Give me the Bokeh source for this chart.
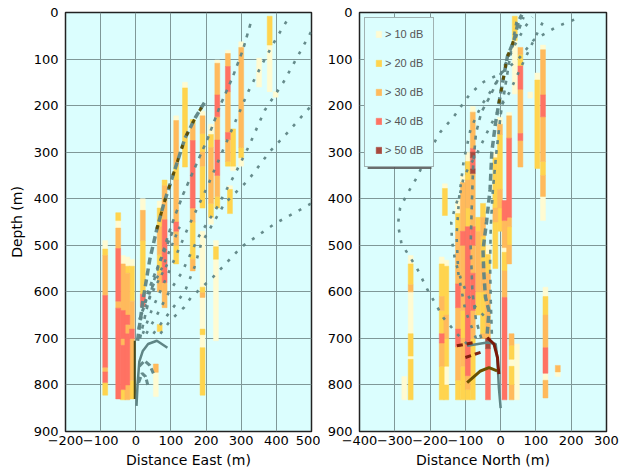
from bokeh.plotting import figure
from bokeh.layouts import row
from bokeh.models import Range1d, FixedTicker, Legend, LegendItem, ColumnDataSource, BoxAnnotation
from bokeh.embed import file_html
from bokeh.resources import INLINE

# ---------------- data ----------------
levels = [10, 20, 30, 40, 50]
level_labels = ["> 10 dB", "> 20 dB", "> 30 dB", "> 40 dB", "> 50 dB"]
level_colors = ["#FFFBD2", "#FFD44E", "#FFBA5C", "#FF7263", "#A8483D"]

depth_ticks = [0, 100, 200, 300, 400, 500, 600, 700, 800, 900]
east_ticks = [-200, -100, 0, 100, 200, 300, 400, 500]
north_ticks = [-400, -300, -200, -100, 0, 100, 200, 300]

# East panel: column centre (m), cell boundaries in depth (m), level of each cell (0 = empty)
east_col_x = [-87, -50, -37, -24, -11, 20, 57, 68, 82, 115, 140, 162, 190, 214, 228, 232,
              262, 268, 277, 300, 351, 381, 398]
east_col_edges = [
    [490, 508, 522, 608, 762, 772, 795, 822],
    [430, 447, 463, 507, 620, 635, 830],
    [522, 540, 640, 700, 715, 810, 832],
    [525, 545, 560, 650, 670, 690, 800, 832],
    [530, 545, 620, 680, 700, 790, 830],
    [400, 425, 490, 605, 632],
    [755, 773, 825],
    [405, 420, 460, 520, 560, 600, 670, 685],
    [360, 372, 445, 580, 634],
    [222, 232, 330, 360, 450, 470, 500, 540],
    [150, 162, 332],
    [230, 240, 275, 420, 450, 530, 555],
    [212, 222, 260, 300, 330, 420, 470, 590, 602, 612, 680, 692, 720, 822],
    [240, 262, 290, 410, 440, 455],
    [490, 503, 530, 705],
    [102, 109, 177, 224, 274, 350, 395, 420],
    [81, 88, 116, 170, 258, 273, 320, 330],
    [372, 380, 432],
    [250, 330, 340],
    [63, 75, 290, 312, 330],
    [98, 160],
    [8, 70, 170],
    [170, 182],
]
east_col_lvls = [
    [10, 20, 30, 40, 30, 40, 20],
    [20, 10, 30, 40, 30, 40],
    [10, 30, 40, 30, 40, 20],
    [10, 20, 30, 40, 30, 40, 30],
    [10, 20, 30, 40, 30, 20],
    [10, 30, 20, 40],
    [30, 10],
    [10, 20, 30, 20, 30, 0, 20],
    [20, 30, 40, 30],
    [10, 30, 20, 30, 40, 30, 20],
    [10, 20],
    [20, 30, 40, 30, 20, 30],
    [10, 30, 20, 30, 20, 0, 10, 20, 30, 10, 20, 10, 20],
    [10, 20, 30, 20, 10],
    [10, 20, 10],
    [10, 30, 40, 30, 40, 30, 20],
    [10, 30, 40, 30, 40, 30, 20],
    [10, 20],
    [20, 10],
    [10, 30, 20, 10],
    [10],
    [20, 10],
    [10],
]

# North panel
north_col_x = [-273, -255, -167, -158, -154, -121, -107, -93, -79, -64, -50, -36, -15, -2,
               11, 24, 31, 40, 46, 56, 84, 104, 120, 127, 162]
north_col_edges = [
    [782, 832],
    [522, 540, 585, 600, 690, 738, 745, 832],
    [525, 540, 610, 640, 690, 710, 760, 832],
    [368, 378, 436],
    [532, 545, 650, 700, 760, 800, 832],
    [404, 432, 470, 583, 634, 680, 718, 790, 832],
    [350, 365, 470, 500, 640, 700, 760, 832],
    [300, 320, 360, 420, 460, 780, 810, 832],
    [202, 214, 292, 300, 312, 336, 346, 460, 500, 560, 640, 700, 832],
    [440, 470, 600, 650],
    [410, 440, 480, 540, 600, 690, 700],
    [500, 520, 560, 700, 722, 832],
    [300, 312, 420, 450, 550],
    [225, 240, 262, 380, 420, 470],
    [404, 447, 505, 515, 555, 612, 832],
    [215, 222, 270, 440, 460, 500, 540],
    [690, 715, 745, 760, 800, 832],
    [8, 60, 175],
    [712, 832],
    [75, 90, 115, 165, 260, 275, 332],
    [171, 184],
    [130, 145, 335],
    [70, 80, 177, 224, 320, 350, 395, 447],
    [590, 610, 650, 720, 775, 790, 828],
    [758, 772, 782],
]
north_col_lvls = [
    [10],
    [10, 20, 30, 10, 20, 10, 20],
    [10, 20, 30, 20, 40, 30, 20],
    [10, 20],
    [10, 20, 30, 20, 10, 20],
    [10, 20, 30, 40, 30, 40, 30, 20],
    [10, 30, 40, 30, 20, 30, 20],
    [10, 20, 30, 20, 40, 30, 20],
    [10, 30, 40, 50, 40, 50, 30, 40, 30, 40, 30, 20],
    [20, 30, 20],
    [20, 30, 20, 30, 20, 30],
    [10, 20, 30, 50, 40],
    [10, 20, 30, 20],
    [10, 30, 20, 30, 20],
    [40, 30, 10, 20, 30, 40],
    [10, 30, 40, 30, 20, 30],
    [30, 20, 10, 20, 30],
    [20, 10],
    [10],
    [30, 20, 40, 30, 40, 30],
    [10],
    [10, 20],
    [10, 30, 40, 30, 20, 30, 10],
    [10, 20, 30, 40, 10, 30],
    [30, 10],
]

# Trajectories, East panel (distance east, depth)
east_well_x = [2, 5, 10, 20, 35, 60, 90]
east_well_y = [845, 800, 750, 727, 712, 705, 720]
east_core_x = [-3, -3]
east_core_y = [705, 830]
east_ray1_x = [5, 20, 40, 60, 80, 110, 140, 170, 200]
east_ray1_y = [705, 620, 530, 465, 410, 340, 270, 225, 188]
east_ray2_x = [12, 30, 50, 75, 100, 135, 170, 205, 240, 275, 305, 331]
east_ray2_y = [700, 640, 580, 520, 460, 390, 330, 270, 200, 140, 80, 12]
east_ray3_x = [20, 45, 75, 110, 150, 200, 240, 280, 320, 360, 400, 440]
east_ray3_y = [690, 640, 590, 530, 460, 380, 310, 240, 170, 110, 55, 5]
east_ray4_x = [30, 60, 95, 130, 180, 230, 280, 320, 367, 420, 460, 500]
east_ray4_y = [690, 650, 600, 560, 480, 420, 350, 290, 210, 150, 95, 40]
east_ray5_x = [50, 90, 120, 143, 167, 186, 252, 281, 319, 380, 433, 471, 500]
east_ray5_y = [690, 650, 620, 593, 547, 497, 411, 389, 361, 300, 257, 224, 200]
east_ray6_x = [70, 100, 138, 157, 219, 300, 395, 500]
east_ray6_y = [690, 660, 633, 612, 569, 504, 454, 410]
east_feather1_x = [8, 20, 35, 55, 80, 105]
east_feather1_y = [680, 640, 600, 560, 515, 470]
east_feather2_x = [10, 28, 50, 75, 100, 125]
east_feather2_y = [660, 622, 585, 548, 505, 460]
east_feather3_x = [15, 40, 65, 90]
east_feather3_y = [650, 612, 575, 540]
east_hook1_x = [10, 25, 40, 50]
east_hook1_y = [760, 748, 758, 775]
east_hook2_x = [8, 18, 28, 34]
east_hook2_y = [795, 775, 782, 800]
east_dark_x = [60, 80, 110, 140, 170, 200]
east_dark_y = [465, 410, 340, 270, 225, 188]

# Trajectories, North panel (distance north, depth)
north_well_x = [0, -5, -9, -14, -38, -95]
north_well_y = [850, 806, 748, 712, 709, 716]
north_red_x = [-38, -19, -9, -5]
north_red_y = [698, 712, 741, 777]
north_olive_x = [-95, -57, -33, -10]
north_olive_y = [795, 770, 763, 770]
north_red2_x = [-124, -76]
north_red2_y = [716, 709]
north_red3_x = [-100, -57]
north_red3_y = [741, 730]
north_ray1_x = [-95, -124, -163, -209, -238, -281, -291, -285, -265, -238, -200, -171, -133, -86,
                -48, 0, 48, 94, 160, 229]
north_ray1_y = [712, 690, 655, 593, 548, 497, 455, 420, 390, 355, 295, 257, 224, 174, 149, 131,
                102, 59, 30, 9]
north_ray2_x = [-48, -71, -95, -114, -129, -138, -140, -128, -114, -105, -90, -67, -40, -10, 24,
                50, 76, 100, 120]
north_ray2_y = [651, 633, 605, 569, 533, 490, 450, 415, 386, 354, 332, 303, 260, 215, 173, 130,
                88, 50, 20]
north_ray3_x = [-38, -33, -43, -48, -50, -40, -30, -25, -15, -5, 8, 19, 38, 50, 60]
north_ray3_y = [690, 641, 612, 555, 510, 450, 380, 300, 240, 195, 140, 95, 59, 20, 5]
north_ray4_x = [-55, -70, -80, -85, -82, -78, -70, -55, -30, -5, 20, 40, 55, 65]
north_ray4_y = [700, 660, 600, 500, 420, 330, 260, 215, 180, 140, 100, 60, 30, 10]
north_ray5_x = [-70, -100, -120, -125, -118, -105, -85, -55, -20, 10, 40, 70, 90]
north_ray5_y = [700, 640, 560, 480, 400, 320, 250, 200, 160, 120, 70, 30, 10]
north_ray6_x = [-25, -28, -30, -28, -22, -12, 0, 15, 30, 45]
north_ray6_y = [690, 620, 540, 460, 380, 300, 220, 150, 80, 20]
north_dark_x = [-5, 8, 19, 38]
north_dark_y = [195, 140, 95, 59]

# ---------------- styling ----------------
BG = "#DBFEFE"
GRID = "#7f9898"
RAY = "#5f8585"
FONT = "DejaVu Sans"
CELL_W = 14


def make_fig(width, xr, xticks, xlabel, ylabel, min_left, min_right):
    p = figure(width=width, height=472, x_range=Range1d(*xr), y_range=Range1d(900, 0),
               output_backend="svg", toolbar_location=None,
               min_border_left=min_left, min_border_right=min_right,
               min_border_top=12, min_border_bottom=41)
    p.background_fill_color = BG
    p.border_fill_color = "white"
    p.outline_line_color = "#222222"
    p.outline_line_width = 1.5
    p.xaxis.ticker = FixedTicker(ticks=xticks)
    p.yaxis.ticker = FixedTicker(ticks=depth_ticks)
    p.xaxis.major_label_overrides = {t: ("\u2212" + str(-t) if t < 0 else str(t)) for t in xticks}
    for ax in (p.xaxis[0], p.yaxis[0]):
        ax.axis_line_color = None
        ax.major_tick_line_color = None
        ax.minor_tick_line_color = None
        ax.major_tick_out = 0
        ax.major_tick_in = 0
        ax.major_label_text_font = FONT
        ax.major_label_text_font_size = "13px"
        ax.major_label_text_color = "black"
        ax.axis_label_text_font = FONT
        ax.axis_label_text_font_size = "14px"
        ax.axis_label_text_font_style = "normal"
        ax.axis_label_text_color = "black"
    p.xaxis.major_label_standoff = 4
    p.yaxis.major_label_standoff = 7
    p.xaxis.axis_label_standoff = 4
    p.yaxis.axis_label_standoff = 6
    p.xaxis.axis_label = xlabel
    if ylabel:
        p.yaxis.axis_label = ylabel
    p.xgrid.ticker = FixedTicker(ticks=xticks)
    p.ygrid.ticker = FixedTicker(ticks=depth_ticks)
    for g in (p.xgrid[0], p.ygrid[0]):
        g.grid_line_color = GRID
        g.grid_line_width = 1
        g.grid_line_alpha = 1
    return p


def add_cells(p, col_x, col_edges, col_lvls):
    data = {l: dict(left=[], right=[], top=[], bottom=[]) for l in levels}
    for x, edges, lv in zip(col_x, col_edges, col_lvls):
        for i, l in enumerate(lv):
            if l == 0:
                continue
            d = data[l]
            d["left"].append(x - CELL_W / 2)
            d["right"].append(x + CELL_W / 2)
            d["top"].append(edges[i])
            d["bottom"].append(edges[i + 1])
    rends = []
    for l, c in zip(levels, level_colors):
        r = p.quad(left="left", right="right", top="top", bottom="bottom",
                   source=ColumnDataSource(data[l]), fill_color=c, line_color=c, line_width=0.5)
        rends.append(r)
    return rends


def dotted(p, x, y):
    p.line(x, y, line_color=RAY, line_width=2.6, line_dash="3 8", line_alpha=0.95)


def dashed(p, x, y, w=3.0, dash="5 5", color=RAY):
    p.line(x, y, line_color=color, line_width=w, line_dash=dash, line_alpha=0.95)


# ---------------- East panel ----------------
p1 = make_fig(320, (-200, 500), east_ticks, "Distance East (m)", "Depth (m)", 65, 9)
add_cells(p1, east_col_x, east_col_edges, east_col_lvls)
dashed(p1, east_ray1_x, east_ray1_y, w=3.5, dash="7 4")
dashed(p1, east_ray2_x, east_ray2_y, w=2.6, dash="4 6")
dotted(p1, east_ray3_x, east_ray3_y)
dotted(p1, east_ray4_x, east_ray4_y)
dotted(p1, east_ray5_x, east_ray5_y)
dotted(p1, east_ray6_x, east_ray6_y)
dashed(p1, east_feather1_x, east_feather1_y, w=2.8, dash="4 5")
dashed(p1, east_feather2_x, east_feather2_y, w=2.5, dash="3 6")
dashed(p1, east_feather3_x, east_feather3_y, w=2.5, dash="3 6")
dashed(p1, east_dark_x, east_dark_y, w=3, dash="4 10", color="#5c4b00")
dashed(p1, east_hook1_x, east_hook1_y, w=3, dash="6 3")
dashed(p1, east_hook2_x, east_hook2_y, w=3, dash="6 3")
p1.line(east_core_x, east_core_y, line_color="#4a4a1a", line_width=2)
p1.line(east_well_x, east_well_y, line_color=RAY, line_width=2.5)

# ---------------- North panel ----------------
p2 = make_fig(304, (-400, 300), north_ticks, "Distance North (m)", None, 39, 18)
rends = add_cells(p2, north_col_x, north_col_edges, north_col_lvls)
dotted(p2, north_ray1_x, north_ray1_y)
dotted(p2, north_ray2_x, north_ray2_y)
dashed(p2, north_ray3_x, north_ray3_y, w=3.5, dash="7 4")
dashed(p2, north_ray4_x, north_ray4_y, w=2.6, dash="4 6")
dotted(p2, north_ray5_x, north_ray5_y)
dashed(p2, north_ray6_x, north_ray6_y, w=2.6, dash="4 6")
dashed(p2, north_dark_x, north_dark_y, w=3, dash="4 8", color="#5c4b00")
p2.line(north_well_x, north_well_y, line_color=RAY, line_width=2.5)
p2.line(north_red_x, north_red_y, line_color="#7a1a0a", line_width=3)
p2.line(north_olive_x, north_olive_y, line_color="#6b5200", line_width=3)
dashed(p2, north_red2_x, north_red2_y, w=3, dash="6 4", color="#7a1a0a")
dashed(p2, north_red3_x, north_red3_y, w=3, dash="6 4", color="#7a1a0a")

# drop shadow behind the legend box (a few pixels right and down)
shadow = BoxAnnotation(left=-377, right=-196, top=17, bottom=336,
                       fill_color="#555555", fill_alpha=0.85, line_color=None)
p2.add_layout(shadow)

legend = Legend(items=[LegendItem(label=lab, renderers=[r]) for lab, r in zip(level_labels, rends)],
                location="top_left")
legend.label_text_font = "Liberation Sans"
legend.label_text_font_size = "11px"
legend.label_text_color = "#555555"
legend.glyph_width = 7
legend.glyph_height = 8
legend.label_height = 12
legend.label_standoff = 3
legend.spacing = 17
legend.padding = 10
legend.margin = 5
legend.border_line_color = "#666666"
legend.border_line_width = 1.5
legend.background_fill_color = BG
legend.background_fill_alpha = 1
p2.add_layout(legend)

layout = row(p1, p2)
open("out.html", "w").write(file_html(layout, INLINE))
